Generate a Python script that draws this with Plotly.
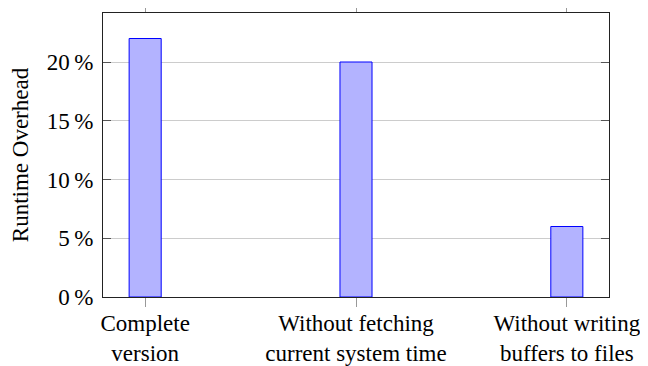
import plotly.graph_objects as go

categories = ["Complete<br>version", "Without fetching<br>current system time", "Without writing<br>buffers to files"]
overhead = [22, 20, 6]
y_ticks = [0, 5, 10, 15, 20]
y_tick_labels = ["0\u2009%", "5\u2009%", "10\u2009%", "15\u2009%", "20\u2009%"]

FONT = "Liberation Serif, Times New Roman, DejaVu Serif, serif"

fig = go.Figure(go.Bar(
    x=list(range(len(categories))), y=overhead,
    width=0.152,
    marker=dict(color="#b3b3ff", line=dict(color="#0000ff", width=1)),
))

# page body has an 8px margin, so the figure is 8px smaller and margins shifted
fig.update_layout(
    width=640, height=358,
    margin=dict(l=95, r=39, t=5, b=69),
    plot_bgcolor="white", paper_bgcolor="white",
    font=dict(family=FONT, size=24, color="black"),
    showlegend=False,
    xaxis=dict(
        range=[-0.2, 2.2], automargin=False,
        tickmode="array", tickvals=list(range(len(categories))), ticktext=categories,
        ticks="outside", ticklen=9, tickcolor="#999999", tickwidth=1,
        showline=True, linecolor="#222222", linewidth=1, mirror="ticks",
        showgrid=False, zeroline=False,
        tickfont=dict(family=FONT, size=23),
        ticklabelstandoff=-4,
    ),
    yaxis=dict(
        range=[0, 24.17], automargin=False,
        tickmode="array", tickvals=y_ticks, ticktext=y_tick_labels,
        ticks="inside", ticklen=8, tickcolor="#555555", tickwidth=1,
        showline=True, linecolor="#222222", linewidth=1, mirror="ticks",
        showgrid=True, gridcolor="#cccccc", gridwidth=1, zeroline=False,
        tickfont=dict(family=FONT, size=23),
        ticklabelstandoff=4,
        title=dict(text="Runtime Overhead", font=dict(family=FONT, size=23), standoff=13),
    ),
)

fig.write_html("out.html")
